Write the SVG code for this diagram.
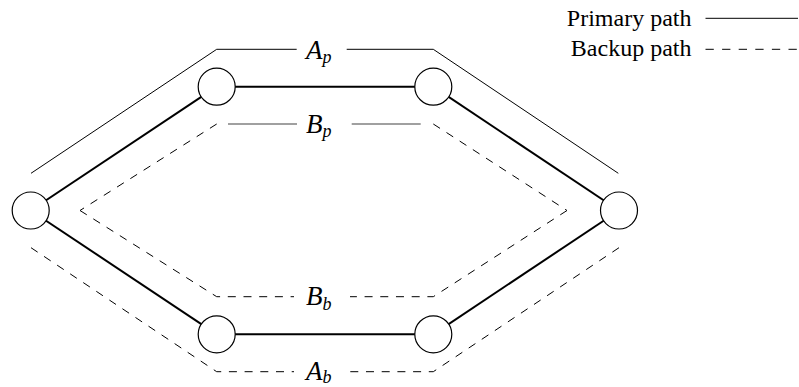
<svg xmlns="http://www.w3.org/2000/svg" width="799" height="387" viewBox="0 0 799 387">
<style>
.node{fill:#fff;stroke:#000;stroke-width:1.2}
.link{stroke:#000;stroke-width:2;fill:none}
.prim{stroke:#000;stroke-width:1;fill:none}
.back{stroke:#000;stroke-width:1;fill:none;stroke-dasharray:8 7.7}
.grey{stroke:#808080;stroke-width:1.3;fill:none}
.lbl{font-family:"Liberation Serif","Times New Roman",serif;font-style:italic;font-size:27px;fill:#000}
.sub{font-size:18px}
.leg{font-family:"Liberation Serif","Times New Roman",serif;font-size:24px;fill:#000;text-anchor:end}
</style>
<g id="connectors">
<g id="links">
<line class="link" x1="30.7" y1="210.5" x2="216.7" y2="86.7"/>
<line class="link" x1="216.7" y1="86.7" x2="433.3" y2="86.7"/>
<line class="link" x1="433.3" y1="86.7" x2="619" y2="210.5"/>
<line class="link" x1="30.7" y1="210.5" x2="216.7" y2="334.3"/>
<line class="link" x1="216.7" y1="334.3" x2="433.3" y2="334.3"/>
<line class="link" x1="433.3" y1="334.3" x2="619" y2="210.5"/>
</g>
<g id="path-Ap">
<polyline class="prim" points="31,173.3 216.7,49.3 296.7,49.3"/>
<polyline class="prim" points="346.7,49.3 433.3,49.3 618.3,173.3"/>
</g>
<g id="path-Bp">
<line class="back" x1="216.7" y1="124" x2="80" y2="210.5"/>
<line class="grey" x1="228" y1="124" x2="297" y2="124"/>
<line class="grey" x1="351.7" y1="124" x2="420.7" y2="124"/>
<line class="back" x1="433.3" y1="124" x2="567" y2="210.5"/>
</g>
<g id="path-Bb">
<polyline class="back" points="80,210.5 216.7,296.7 294,296.7"/>
<polyline class="back" points="567,210.5 433.3,296.7 350,296.7"/>
</g>
<g id="path-Ab">
<polyline class="back" points="31,247.7 216.7,371.7 294,371.7"/>
<polyline class="back" points="619,247.7 433.3,371.7 347,371.7"/>
</g>
</g>
<g id="labels">
<text class="lbl" x="306" y="58.5">A<tspan class="sub" dy="4.5">p</tspan></text>
<text class="lbl" x="306" y="132.5">B<tspan class="sub" dy="4.5">p</tspan></text>
<text class="lbl" x="306" y="305">B<tspan class="sub" dy="4.5">b</tspan></text>
<text class="lbl" x="306" y="379.5">A<tspan class="sub" dy="3">b</tspan></text>
</g>
<g id="n1"><circle class="node" cx="30.7" cy="210.5" r="18.5"/></g>
<g id="n2"><circle class="node" cx="216.7" cy="86.7" r="18.5"/></g>
<g id="n3"><circle class="node" cx="433.3" cy="86.7" r="18.5"/></g>
<g id="n4"><circle class="node" cx="619" cy="210.5" r="18.5"/></g>
<g id="n5"><circle class="node" cx="433.3" cy="334.3" r="18.5"/></g>
<g id="n6"><circle class="node" cx="216.7" cy="334.3" r="18.5"/></g>
<g id="legend">
<text class="leg" x="691.5" y="25.5">Primary path</text>
<line class="prim" x1="705.5" y1="18.3" x2="798" y2="18.3"/>
<text class="leg" x="691.5" y="55.5">Backup path</text>
<line class="back" x1="705.5" y1="49.3" x2="798" y2="49.3" style="stroke-dasharray:8.3 8.3"/>
</g>
</svg>
